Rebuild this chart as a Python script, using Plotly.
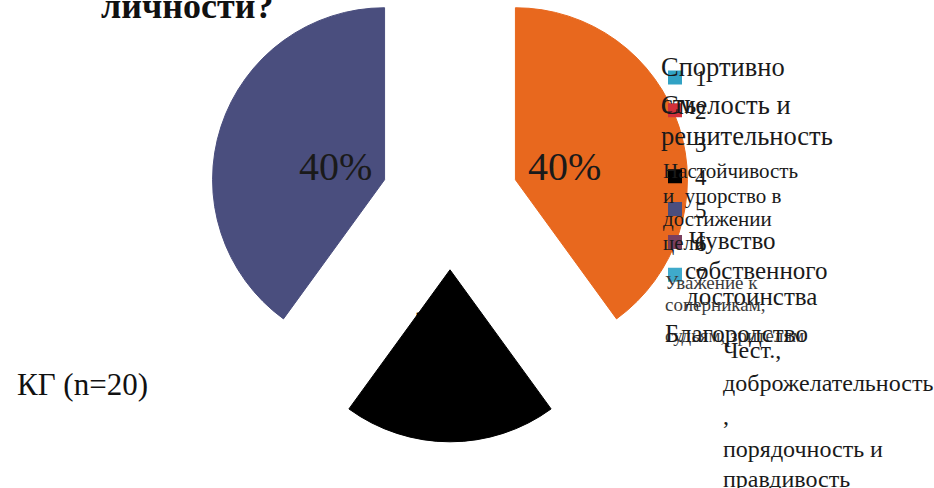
import math
import plotly.graph_objects as go

# ---------------- data ----------------
categories = ["1", "2", "3", "4", "5", "6", "7"]
values = [0, 0, 40, 20, 40, 0, 0]
category_names = [
    "Спортивность",
    "Смелость и решительность",
    "Настойчивость и упорство в достижении цели",
    "Чувство собственного достоинства",
    "Уважение к соперникам, судьям, зрителям",
    "Благородство",
    "Чест., доброжелательность, порядочность и правдивость",
]
slice_colors = ["#31A2C4", "#D2303A", "#E8681E", "#000000", "#4A4E7E", "#7A3F5E", "#3FAACB"]
label_colors = ["#1a1a1a", "#1a1a1a", "#1a1a1a", "#000000", "#1a1a1a", "#1a1a1a", "#1a1a1a"]
pulls = [0, 0, 0.4, 0.4, 0.4, 0, 0]
group_label = "КГ (n=20)"
title_tail = "личности?"

# ---------------- layout helpers ----------------
W, VIEW_H, SHIFT = 934, 488, 43
H = VIEW_H + SHIFT
SERIF = "Liberation Serif"
DARK = "#1a1a1a"
GRAY = "#3c3c3c"


def px(x):
    return x / W


def py(y):
    return 1 - (y + SHIFT) / H


R = 172
CX, CY = 450, 201
half = R * (1 + max(pulls))

fig = go.Figure()
fig.add_trace(go.Pie(
    labels=categories,
    values=values,
    sort=False,
    direction="clockwise",
    rotation=0,
    pull=pulls,
    marker=dict(colors=slice_colors,
                line=dict(color=slice_colors, width=[0, 0, 1, 1, 1, 0, 0])),
    textinfo="none",
    domain=dict(x=[px(CX - 300), px(CX + 300)], y=[py(CY + half), py(CY - half)]),
    hoverinfo="label+percent",
))

annotations = []

# percent labels, placed along each slice's bisector (derived from the values)
total = sum(values)
cum = 0.0
for v, p, col in zip(values, pulls, label_colors):
    if v > 0:
        mid = 2 * math.pi * (cum + v / 2) / total
        ux, uy = math.sin(mid), -math.cos(mid)
        dist = (p + 0.3) * R
        annotations.append(dict(
            text=f"{round(100 * v / total)}%", x=px(CX + dist * ux), y=py(CY + dist * uy + 3),
            xref="paper", yref="paper", xanchor="center", yanchor="middle",
            showarrow=False, borderpad=0,
            font=dict(family=SERIF, size=40, color=col)))
    cum += v

# legend-text overlay lines (text, x, baseline, size, color)
overlay = [
    ("Спортивно", 660, 76, 26.5, DARK),
    ("сть", 660, 113, 26.5, DARK),
    ("Смелость и", 660, 114, 26.5, DARK),
    ("решительность", 660, 145, 26.5, DARK),
    ("Настойчивость", 662, 178, 21, DARK),
    ("и  упорство в", 662, 203, 21, DARK),
    ("достижении", 662, 226, 21, DARK),
    ("цели", 662, 250, 21, DARK),
    ("Чувство", 688, 249, 25, DARK),
    ("собственного", 684, 279, 25, DARK),
    ("достоинства", 685, 305, 25, DARK),
    ("Уважение к", 664, 289, 19, GRAY),
    ("соперникам,", 664, 311, 19, GRAY),
    ("судьям, зрителям", 664, 342, 19, GRAY),
    ("Благородство", 664, 342, 25, DARK),
    ("Чест.,", 722, 358, 24, DARK),
    ("доброжелательность", 722, 391, 24, DARK),
    (",", 722, 424, 24, DARK),
    ("порядочность и", 722, 457, 24, DARK),
    ("правдивость", 722, 487, 24, DARK),
]

for text, x, base, size, color in overlay:
    annotations.append(dict(
        text=text, x=px(x), y=py(base - 0.34 * size), xref="paper", yref="paper",
        xanchor="left", yanchor="middle", showarrow=False, borderpad=0,
        font=dict(family=SERIF, size=size, color=color)))

annotations.append(dict(
    text="<b>" + title_tail + "</b>", x=px(100), y=py(18 - 0.34 * 36), xref="paper", yref="paper",
    xanchor="left", yanchor="middle", showarrow=False, borderpad=0,
    font=dict(family=SERIF, size=36, color="#111111")))
annotations.append(dict(
    text=group_label, x=px(16), y=py(395 - 0.34 * 31), xref="paper", yref="paper",
    xanchor="left", yanchor="middle", showarrow=False, borderpad=0,
    font=dict(family=SERIF, size=31, color="#111111")))

fig.update_layout(
    width=W, height=H,
    margin=dict(l=0, r=0, t=0, b=0),
    paper_bgcolor="white", plot_bgcolor="white",
    showlegend=True,
    legend=dict(x=px(655), y=py(56), xanchor="left", yanchor="top",
                bgcolor="rgba(0,0,0,0)", itemsizing="constant",
                font=dict(family=SERIF, size=23, color=DARK)),
    annotations=annotations,
)

post = ("document.body.style.margin='0';document.body.style.overflow='hidden';"
        "var g=document.getElementById('{plot_id}');g.style.marginTop='-%dpx';" % SHIFT)
fig.write_html("out.html", post_script=post)
